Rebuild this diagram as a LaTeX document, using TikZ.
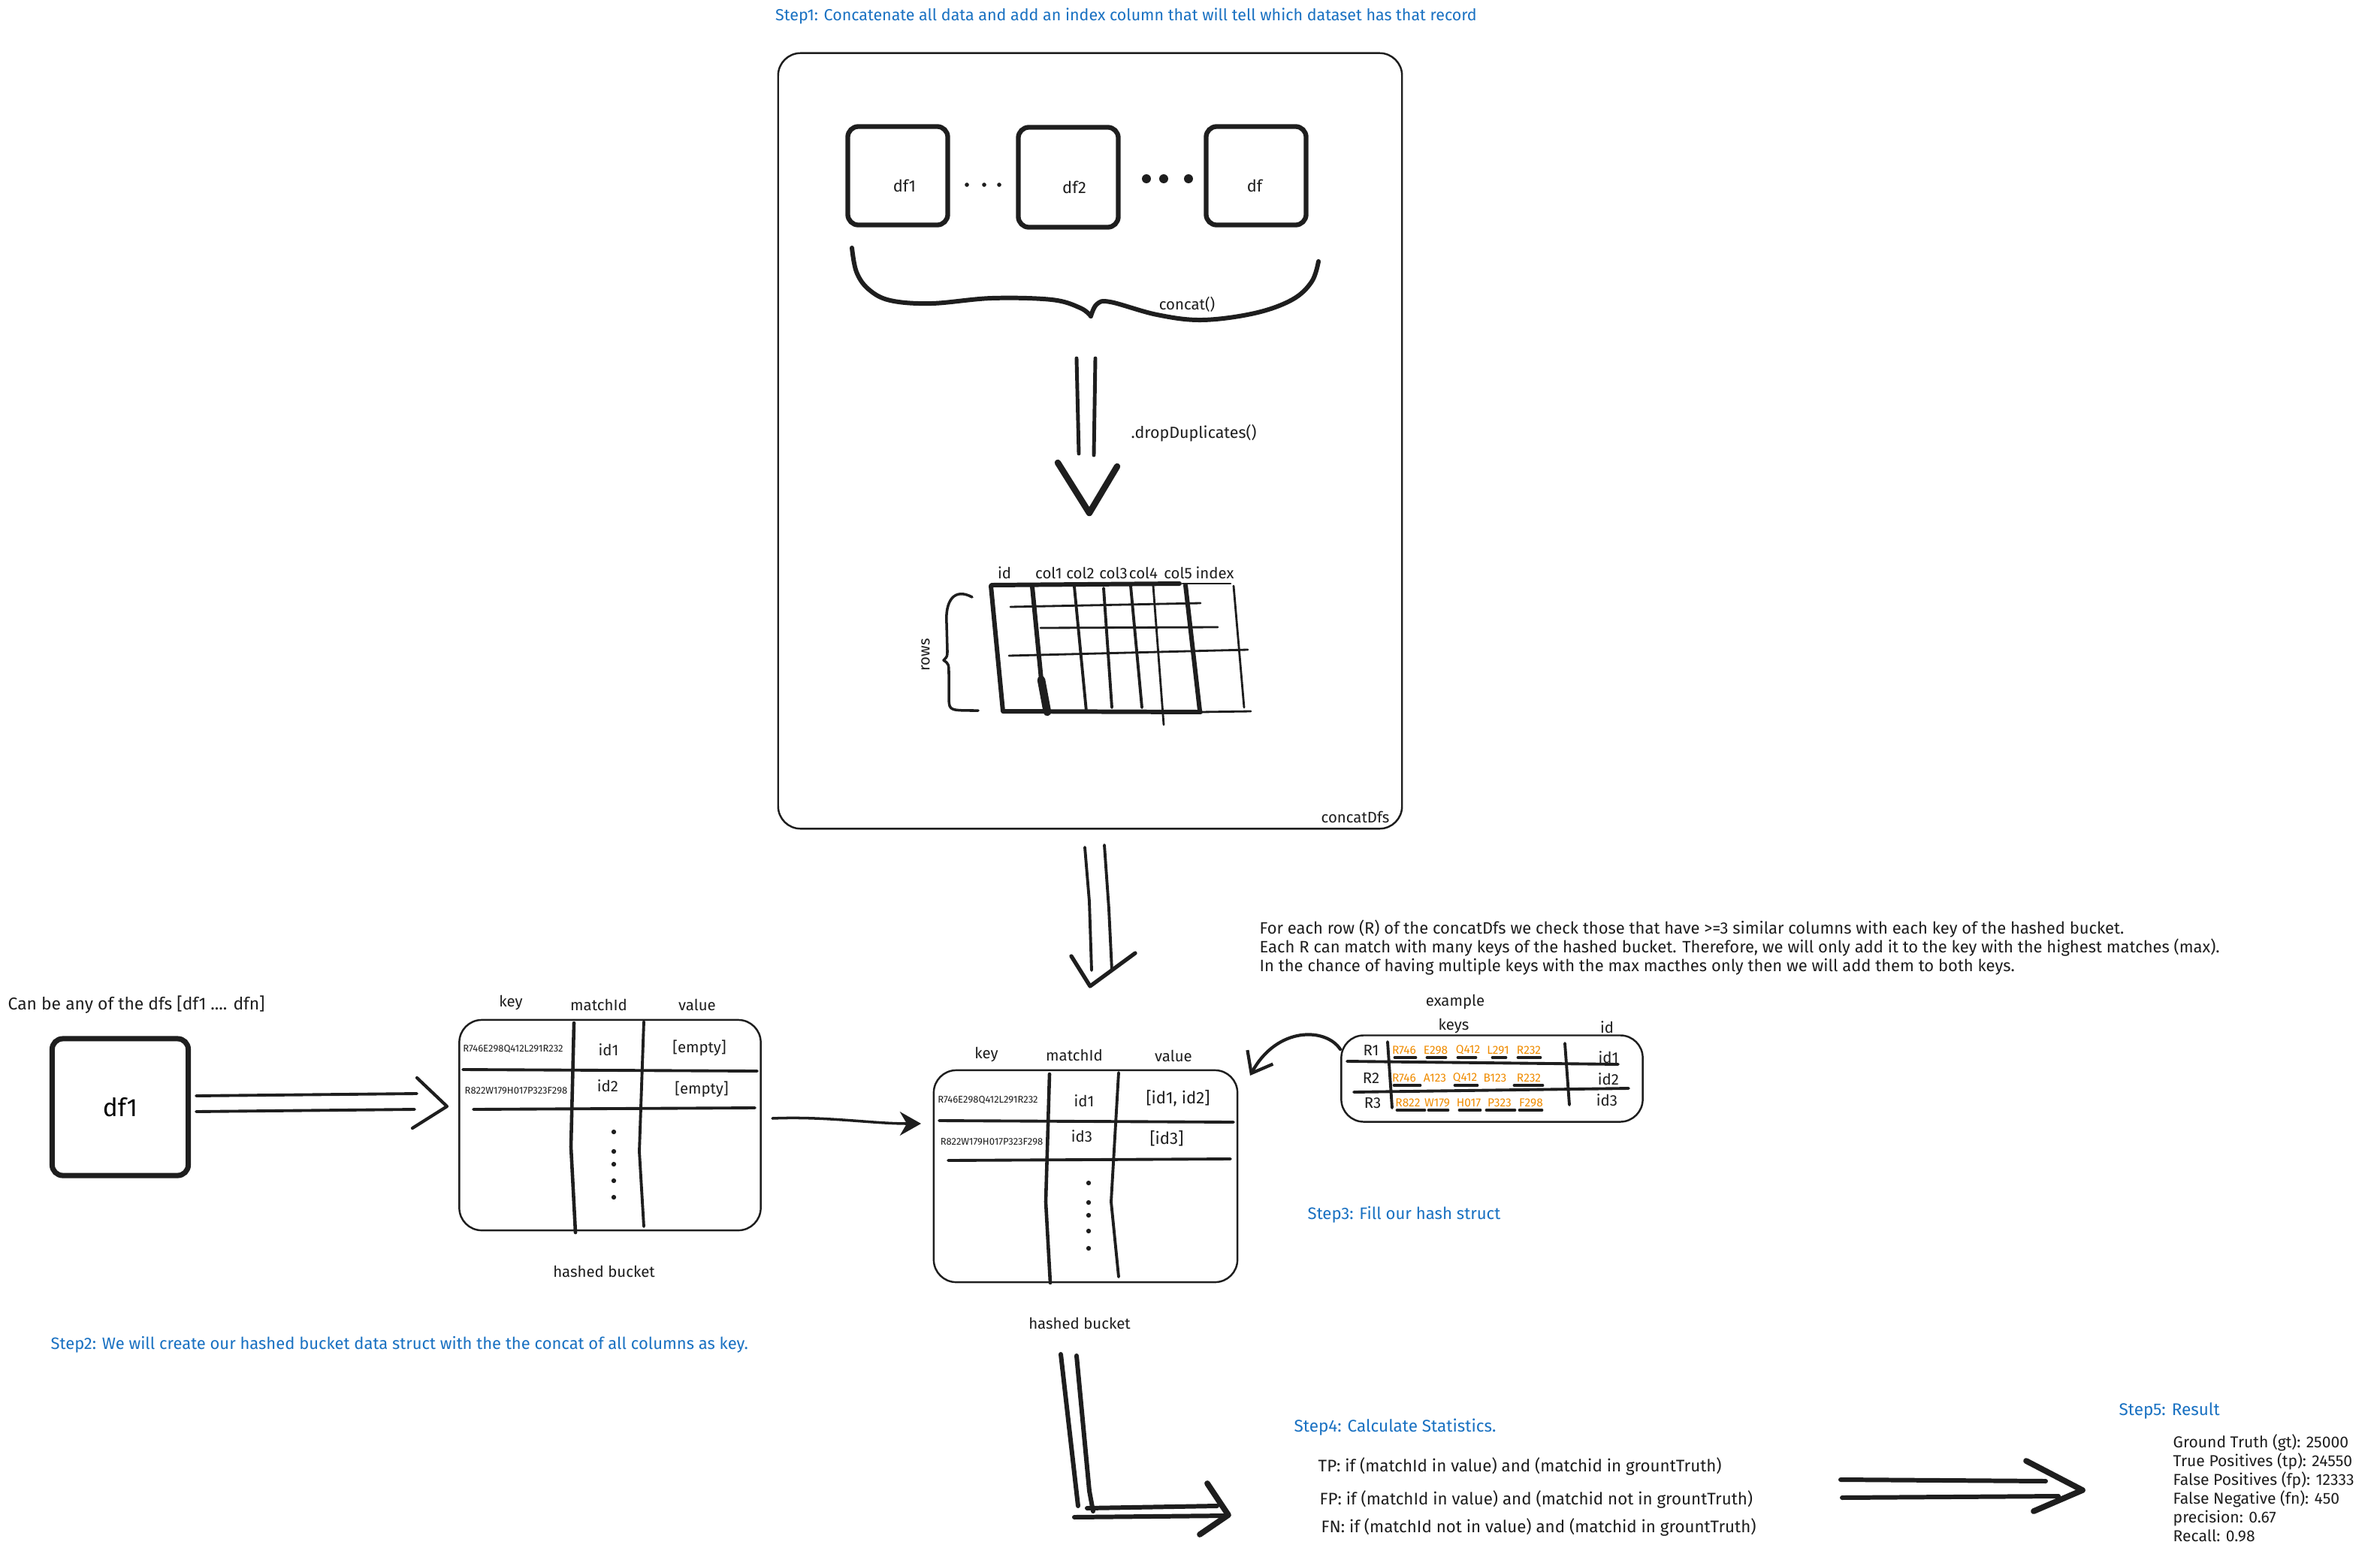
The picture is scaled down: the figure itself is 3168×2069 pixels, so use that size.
\documentclass[tikz,border=0pt]{standalone}
\usepackage{fontspec}
\setmainfont{Fira Sans}
\usetikzlibrary{arrows.meta}

\definecolor{hbInk}{HTML}{1E1E1E}
\definecolor{hbBlue}{HTML}{1971C2}
\definecolor{hbOrange}{HTML}{F08C00}

\newcommand{\hbsize}[2]{\fontsize{#1}{#2}\selectfont}

\tikzset{
  txt/.style={inner sep=0pt, text=hbInk, font=\hbsize{5.8pt}{7pt}},
  notetxt/.style={txt, font=\hbsize{6.25pt}{7.2pt}},
  steptxt/.style={txt, text=hbBlue},
  keytxt/.style={txt, font=\hbsize{3.7pt}{4.2pt}},
  hitkey/.style={txt, text=hbOrange, font=\hbsize{4.4pt}{5pt}},
  dfbox/.style={draw=hbInk, line width=1.8pt, rounded corners=4pt, inner sep=0pt},
  panel/.style={draw=hbInk, line width=0.7pt, rounded corners=8.5pt, inner sep=0pt},
  ink/.style={draw=hbInk, line cap=round, line join=round},
  thinln/.style={ink, line width=0.8pt},
  midln/.style={ink, line width=1.1pt},
  thickln/.style={ink, line width=1.7pt},
  ulln/.style={ink, line width=1.4pt},
  dotmark/.style={fill=hbInk, circle, inner sep=0pt, minimum size=#1},
  vhead/.style={ink, line width=2pt},
}

\begin{document}
\begin{tikzpicture}[x=0.01cm, y=-0.01cm]
  \useasboundingbox (0,0) rectangle (3168,2069);
  \fill[white] (0,0) rectangle (3168,2069);

  % ---- step 1: concatenate all dfs ----
  \node[steptxt, font=\hbsize{6.1pt}{7pt}] (stepone) at (1499,21) {Step1: Concatenate all data and add an index column that will tell which dataset has that record};
  \node[panel, minimum width=8.30cm, minimum height=10.32cm] (concatdfs) at (1451,587) {};
  \node[txt, anchor=east] (concatlbl) at (1850,1088) {concatDfs};

  \node[dfbox, minimum width=1.33cm, minimum height=1.31cm] (dfa) at (1195,234) {};
  \node[dfbox, minimum width=1.33cm, minimum height=1.33cm] (dfb) at (1422,236) {};
  \node[dfbox, minimum width=1.33cm, minimum height=1.31cm] (dfc) at (1672,234) {};
  \node[txt, font=\hbsize{6.2pt}{7pt}] (dfalbl) at (1204,247) {df1};
  \node[txt, font=\hbsize{6.2pt}{7pt}] (dfblbl) at (1430,249) {df2};
  \node[txt, font=\hbsize{6.2pt}{7pt}] (dfclbl) at (1670,247) {df};
  \foreach \x [count=\i] in {1287,1310,1330}{
    \node[dotmark=1.6pt] (sdot\i) at (\x,246) {};
  }
  \foreach \x [count=\i] in {1526,1549,1582}{
    \node[dotmark=3.4pt] (bdot\i) at (\x,238) {};
  }

  % brace under the dfs
  \draw[thickln] plot[smooth, tension=0.6] coordinates {(1134,330) (1140,362) (1156,385) (1185,400) (1240,404) (1320,397) (1400,399) (1438,410) (1452,421)};
  \draw[thickln] plot[smooth, tension=0.6] coordinates {(1452,421) (1460,405) (1478,402) (1540,419) (1600,426) (1670,417) (1720,399) (1746,375) (1755,348)};
  \node[txt] (concatfn) at (1580,405) {concat()};

  % ---- dropDuplicates arrow ----
  \coordinate (ddLa) at (1433,477); \coordinate (ddLb) at (1436,604);
  \coordinate (ddRa) at (1458,477); \coordinate (ddRb) at (1456,606);
  \coordinate (ddTip) at (1450,683);
  \draw[ink, line width=1.4pt] (ddLa) -- (ddLb);
  \draw[ink, line width=1.4pt] (ddRa) -- (ddRb);
  \draw[vhead, line width=2.4pt] (1408,616) -- (ddTip) -- (1487,621);
  \node[txt, anchor=west, font=\hbsize{6.1pt}{7pt}] (dedup) at (1505,577) {.dropDuplicates()};

  % ---- concatDfs table ----
  \foreach \lab/\x [count=\i] in {id/1337,col1/1396,col2/1438,col3/1482,col4/1522,col5/1568,index/1617}{
    \node[txt] (colhd\i) at (\x,763) {\lab};
  }
  \draw[thickln] (1320,779) -- (1570,777);
  \draw[thinln] (1574,777) -- (1638,777);
  \draw[thickln] (1319,780) -- (1335,947) -- (1598,948);
  \draw[thinln] (1598,948) -- (1665,947);
  \draw[thickln] (1374,781) -- (1386,905);
  \draw[ink, line width=3pt] (1386,905) -- (1394,948);
  \draw[midln] (1430,781) -- (1446,947);
  \draw[midln] (1469,783) -- (1480,942);
  \draw[midln] (1505,780) -- (1520,942);
  \draw[thinln] (1535,780) -- (1549,965);
  \draw[thickln] (1578,779) -- (1597,946);
  \draw[thinln] (1642,780) -- (1656,942);
  \draw[thinln] (1345,808) -- (1598,803);
  \draw[thinln] (1385,836) -- (1621,835);
  \draw[thinln] (1343,873) -- (1661,865);
  \draw[thinln, line width=1pt] (1294,795) .. controls (1270,782) and (1258,800) .. (1260,830) -- (1261,866) .. controls (1261,874) .. (1256,879) .. controls (1263,884) .. (1263,898) -- (1263,932) .. controls (1264,946) .. (1302,946);
  \node[txt, rotate=90] (rowslbl) at (1232,872) {rows};

  % ---- concatDfs -> hashed bucket ----
  \coordinate (cbLa) at (1444,1128); \coordinate (cbLb) at (1453,1292);
  \coordinate (cbRa) at (1470,1125); \coordinate (cbRb) at (1480,1292);
  \coordinate (cbTip) at (1451,1313);
  \draw[midln] (cbLa) -- (1450,1200) -- (cbLb);
  \draw[midln] (cbRa) -- (1476,1210) -- (cbRb);
  \draw[vhead, line width=1.5pt] (1426,1273) -- (cbTip) -- (1511,1269);

  % ---- step 3 note ----
  \node[notetxt, anchor=base west] (noteone) at (1676,1243) {For each row (R) of the concatDfs we check those that have >=3 similar columns with each key of the hashed bucket.};
  \node[notetxt, anchor=base west] (notetwo) at (1676,1268) {Each R can match with many keys of the hashed bucket. Therefore, we will only add it to the key with the highest matches (max).};
  \node[notetxt, anchor=base west] (notethree) at (1676,1293) {In the chance of having multiple keys with the max macthes only then we will add them to both keys.};

  % ---- example rows ----
  \node[txt] (exlbl) at (1937,1334) {example};
  \node[txt] (keyslbl) at (1935,1366) {keys};
  \node[txt] (idlbl) at (2139,1368) {id};
  \node[panel, minimum width=4.01cm, minimum height=1.15cm] (exbox) at (1986,1436) {};
  \node[txt] (rowa) at (1825,1398) {R1};
  \node[txt] (rowb) at (1825,1435) {R2};
  \node[txt] (rowc) at (1827,1469) {R3};
  \foreach \k/\x [count=\i] in {R746/1869,E298/1911,Q412/1954,L291/1994,R232/2035}{
    \node[hitkey] (ka\i) at (\x,1398) {\k};
  }
  \foreach \k/\x [count=\i] in {R746/1869,A123/1910,Q412/1950,B123/1990,R232/2035}{
    \node[hitkey] (kb\i) at (\x,1435) {\k};
  }
  \foreach \k/\x [count=\i] in {R822/1874,W179/1913,H017/1955,P323/1996,F298/2038}{
    \node[hitkey] (kc\i) at (\x,1468) {\k};
  }
  \foreach \a/\b in {1857/1884,1900/1924,1941/1964,1987/2004,2021/2050}{
    \draw[ulln] (\a,1408) -- (\b,1408);
  }
  \foreach \a/\b in {1856/1890,1937/1966,2016/2053}{
    \draw[ulln] (\a,1445) -- (\b,1445);
  }
  \foreach \a/\b in {1860/1896,1902/1927,1943/1970,1979/2016,2023/2052}{
    \draw[ulln] (\a,1478) -- (\b,1478);
  }
  \node[txt] (ida) at (2141,1408) {id1};
  \node[txt] (idb) at (2141,1437) {id2};
  \node[txt] (idc) at (2139,1465) {id3};
  \draw[midln] (1847,1387) -- (1853,1475);
  \draw[midln] (2083,1389) -- (2089,1471);
  \draw[midln] (1793,1413) -- (2154,1417);
  \draw[midln] (1802,1454) -- (2168,1449);

  % example -> filled bucket
  \coordinate (exFrom) at (1784,1397);
  \coordinate (exTo) at (1664,1432);
  \draw[ink, line width=1.2pt, -{Straight Barb[length=7pt,width=11pt]}] (exFrom) .. controls (1765,1368) and (1700,1366) .. (exTo);
  \node[steptxt, font=\hbsize{6.3pt}{7pt}] (stepthree) at (1869,1617) {Step3: Fill our hash struct};

  % ---- step 2: source df ----
  \node[txt, anchor=west, font=\hbsize{6.5pt}{7.5pt}] (anydf) at (10,1338) {Can be any of the dfs [df1 .... dfn]};
  \node[dfbox, line width=2pt, minimum width=1.81cm, minimum height=1.82cm, font=\hbsize{9.5pt}{11pt}] (dfbig) at (160,1474) {df1};
  \coordinate (dfUa) at (261,1459); \coordinate (dfUb) at (555,1456);
  \coordinate (dfLa) at (261,1480); \coordinate (dfLb) at (552,1477);
  \coordinate (dfTip) at (595,1473);
  \draw[midln] (dfUa) -- (dfUb);
  \draw[midln] (dfLa) -- (dfLb);
  \draw[vhead, line width=1.2pt] (555,1435) -- (dfTip) -- (549,1502);

  % ---- empty hashed bucket ----
  \node[panel, minimum width=4.01cm, minimum height=2.80cm] (bucketa) at (812,1498) {};
  \node[txt] (akeyhd) at (680,1335) {key};
  \node[txt] (amatchhd) at (797,1338) {matchId};
  \node[txt] (avalhd) at (928,1338) {value};
  \node[keytxt] (akey1) at (683,1397) {R746E298Q412L291R232};
  \node[txt] (aid1) at (810,1398) {id1};
  \node[txt] (aval1) at (931,1395) {[empty]};
  \node[keytxt] (akey2) at (687,1452) {R822W179H017P323F298};
  \node[txt] (aid2) at (809,1446) {id2};
  \node[txt] (aval2) at (934,1450) {[empty]};
  \draw[midln] (616,1424) -- (1008,1426);
  \draw[midln] (630,1477) -- (1005,1475);
  \draw[ink, line width=1.3pt] (764,1362) -- (760,1527) -- (766,1641);
  \draw[midln] (857,1360) -- (851,1533) -- (857,1633);
  \foreach \y [count=\i] in {1507,1533,1550,1572,1594}{
    \node[dotmark=1.8pt] (adot\i) at (817,\y) {};
  }
  \node[txt] (acap) at (804,1693) {hashed bucket};
  \node[steptxt, anchor=west, font=\hbsize{6.25pt}{7pt}] (steptwo) at (67,1790) {Step2: We will create our hashed bucket data struct with the the concat of all columns as key.};

  % empty bucket -> filled bucket
  \coordinate (abFrom) at (1028,1489);
  \coordinate (abTo) at (1226,1496);
  \draw[ink, line width=1pt, -{Stealth[length=8pt,width=9pt]}] (abFrom) .. controls (1100,1486) and (1160,1496) .. (abTo);

  % ---- filled hashed bucket ----
  \node[panel, minimum width=4.04cm, minimum height=2.82cm] (bucketb) at (1445,1566) {};
  \node[txt] (bkeyhd) at (1313,1404) {key};
  \node[txt] (bmatchhd) at (1430,1405) {matchId};
  \node[txt] (bvalhd) at (1562,1406) {value};
  \node[keytxt] (bkey1) at (1315,1465) {R746E298Q412L291R232};
  \node[txt] (bid1) at (1443,1466) {id1};
  \node[txt, font=\hbsize{6.3pt}{7pt}] (bval1) at (1568,1462) {[id1, id2]};
  \node[keytxt] (bkey2) at (1320,1520) {R822W179H017P323F298};
  \node[txt] (bid2) at (1440,1513) {id3};
  \node[txt, font=\hbsize{6.3pt}{7pt}] (bval2) at (1553,1516) {[id3]};
  \draw[midln] (1250,1492) -- (1642,1494);
  \draw[midln] (1262,1545) -- (1638,1543);
  \draw[ink, line width=1.3pt] (1397,1430) -- (1392,1600) -- (1398,1708);
  \draw[midln] (1489,1428) -- (1479,1600) -- (1489,1700);
  \foreach \y [count=\i] in {1575,1601,1618,1639,1662}{
    \node[dotmark=1.8pt] (bdotv\i) at (1449,\y) {};
  }
  \node[txt] (bcap) at (1437,1762) {hashed bucket};

  % ---- bucket -> statistics ----
  \coordinate (lOa) at (1412,1803); \coordinate (lOb) at (1435,2005);
  \coordinate (lIa) at (1433,1805); \coordinate (lIb) at (1455,2012);
  \coordinate (lTip) at (1635,2017);
  \draw[thickln] (lOa) -- (lOb);
  \draw[thickln] (lIa) -- (1450,1985) -- (lIb);
  \draw[thickln] (1447,2008) -- (1620,2005);
  \draw[thickln] (1430,2020) -- (1633,2018);
  \draw[vhead, line width=2.2pt] (1607,1975) -- (lTip) -- (1597,2043);

  % ---- step 4: statistics ----
  \node[steptxt, anchor=west, font=\hbsize{6.4pt}{7pt}] (stepfour) at (1722,1900) {Step4: Calculate Statistics.};
  \node[txt, anchor=west, font=\hbsize{6.35pt}{7pt}] (tprule) at (1754,1952) {TP: if (matchId in value) and (matchid in grountTruth)};
  \node[txt, anchor=west, font=\hbsize{6.35pt}{7pt}] (fprule) at (1756,1996) {FP: if (matchId in value) and (matchid not in grountTruth)};
  \node[txt, anchor=west, font=\hbsize{6.35pt}{7pt}] (fnrule) at (1758,2033) {FN: if (matchId not in value) and (matchid in grountTruth)};

  % statistics -> result
  \coordinate (rsUa) at (2450,1970); \coordinate (rsUb) at (2723,1972);
  \coordinate (rsLa) at (2452,1994); \coordinate (rsLb) at (2740,1992);
  \coordinate (rsTip) at (2772,1984);
  \draw[thickln] (rsUa) -- (rsUb);
  \draw[thickln] (rsLa) -- (rsLb);
  \draw[vhead, line width=2.2pt] (2697,1945) -- (rsTip) -- (2707,2012);

  % ---- step 5: result ----
  \node[steptxt, anchor=west, font=\hbsize{6.4pt}{7pt}] (stepfive) at (2820,1878) {Step5: Result};
  \foreach \line [count=\i] in {Ground Truth (gt): 25000, True Positives (tp): 24550, False Positives (fp): 12333, False Negative (fn): 450, precision: 0.67, Recall: 0.98}{
    \node[txt, anchor=base west, font=\hbsize{6pt}{7pt}] (res\i) at (2892,{1927+25*(\i-1)}) {\line};
  }
\end{tikzpicture}
\end{document}
